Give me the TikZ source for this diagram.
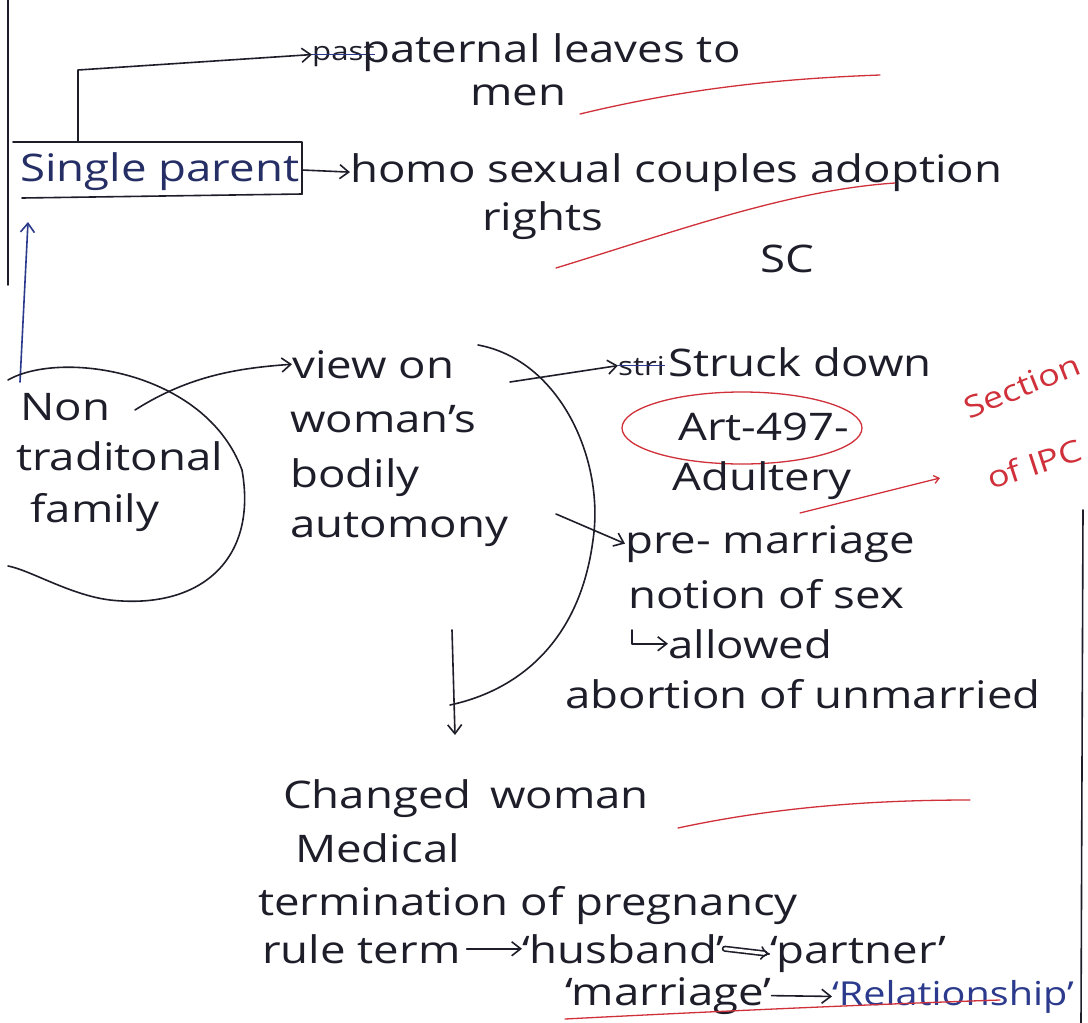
\documentclass[tikz,border=0pt]{standalone}
\usepackage{fontspec}
\setmainfont{Open Sans}[FakeStretch=1.2]
\usetikzlibrary{arrows.meta}
\definecolor{ink}{HTML}{1E1E2A}
\definecolor{blueink}{HTML}{2B3A8C}
\definecolor{redink}{HTML}{D0303A}
\tikzset{
  note/.style={anchor=base west, inner sep=0pt, font=\fontsize{38}{44}\selectfont, text=ink},
  small/.style={note, font=\fontsize{26}{30}\selectfont},
  rednote/.style={inner sep=0pt, font=\fontsize{30}{34}\selectfont, text=redink},
  stroke/.style={draw=ink, line width=1.6pt, line cap=round, line join=round},
  arr/.style={stroke, -{Straight Barb[length=9pt,width=14pt]}},
  bluearr/.style={arr, draw=blueink},
  redpen/.style={draw=redink, line width=1.3pt, line cap=round},
  strike/.style={draw=blueink, line width=1.6pt},
}
\begin{document}
\begin{tikzpicture}[x=1pt,y=-1pt]
\useasboundingbox[fill=white] (0,0) rectangle (1088,1023);

% page margins
\draw[stroke] (8,0) -- (8,285);
\draw[stroke] (1083,510) -- (1081,1023);

% top branch
\node[small] (past) at (312,60) {past};
\draw[strike] (past.west) -- (past.east);
\node[note] (paternal) at (362,62) {paternal leaves to};
\node[note] (men) at (470,105) {men};
\draw[redpen] (580,114) .. controls (700,85) and (800,78) .. (880,75);

% single parent box
\node[note, text=blueink!60!ink] (sp) at (20,181) {Single parent};
\coordinate (boxtop) at (78,142);
\coordinate (bend) at (78,70);
\coordinate (boxright) at (302,170);
\draw[stroke] (13,142) -- (302,142) -- (302,194);
\draw[stroke] (22,198) -- (302,194);
\draw[arr] (boxtop) -- (bend) -- (past.west);

\node[note] (homo) at (350,182) {homo sexual couples adoption};
\node[note] (rights) at (482,230) {rights};
\draw[arr] (boxright) -- (homo.west);
\draw[redpen] (556,268) .. controls (680,230) and (790,190) .. (895,183);
\node[note] (sc) at (760,272) {SC};

% non traditional family
\node[note] (non) at (20,420) {Non};
\node[note] (trad) at (16,470) {traditonal};
\node[note] (fam) at (30,522) {family};
\coordinate (famtop) at (20,382);
\coordinate (spbelow) at (28,222);
\draw[bluearr] (famtop) -- (spbelow);
\draw[stroke] (8,380) .. controls (60,350) and (205,370) .. (242,470)
  .. controls (258,560) and (200,610) .. (110,600) .. controls (70,595) and (30,570) .. (8,566);

% view on bodily autonomy
\node[note] (view) at (292,378) {view on};
\node[note] (womans) at (290,432) {woman's};
\node[note] (bodily) at (290,487) {bodily};
\node[note] (auto) at (290,537) {automony};
\draw[arr] (135,410) .. controls (190,375) and (240,368) .. (view.west);
\draw[stroke] (478,345) .. controls (560,360) and (605,460) .. (593,540)
  .. controls (580,640) and (520,690) .. (450,705);

% struck down
\node[small] (stri) at (618,375) {stri};
\draw[strike] (stri.west) -- (stri.east);
\node[note] (struck) at (668,376) {Struck down};
\coordinate (arcmid) at (510,382);
\draw[arr] (arcmid) -- (stri.west);
\node[note] (art) at (678,440) {Art-497-};
\draw[redpen] (742,428) ellipse [x radius=120, y radius=36];
\node[note] (adult) at (672,490) {Adultery};
\node[rednote, rotate=22] (section) at (1022,386) {Section};
\node[rednote, rotate=18] (ipc) at (1034,464) {of IPC};
\coordinate (ipcend) at (940,478);
\draw[redpen, -{Straight Barb[length=5pt,width=8pt]}] (800,513) -- (ipcend);

% pre-marriage
\node[note] (pre) at (625,553) {pre- marriage};
\node[note] (notion) at (628,608) {notion of sex};
\node[note] (allowed) at (668,658) {allowed};
\coordinate (hook) at (632,630);
\coordinate (arclow) at (556,514);
\draw[arr] (arclow) -- (pre.west);
\draw[arr] (hook) |- (allowed.west);
\node[note] (abort) at (565,708) {abortion of unmarried};

% medical termination of pregnancy
\coordinate (downtop) at (452,630);
\coordinate (downend) at (455,735);
\node[note] (changed) at (283,808) {Changed};
\node[note] (woman) at (490,808) {woman};
\draw[arr] (downtop) -- (downend);
\draw[redpen] (678,828) .. controls (780,806) and (880,800) .. (970,800);
\node[note] (medical) at (295,862) {Medical};
\node[note] (term) at (258,915) {termination of pregnancy};
\node[note] (rule) at (262,963) {rule term};
\node[note] (husband) at (522,963) {‘husband’};
\node[note] (partner) at (770,963) {‘partner’};
\draw[arr] (rule.east) ++(6,0) coordinate (r1) (r1) -- (husband.west);
\draw[stroke, double, double distance=3pt, -{Implies}] (husband.east) -- (partner.west);
\node[note] (marriage) at (565,1005) {‘marriage’};
\node[note, text=blueink, font=\fontsize{33}{40}\selectfont] (relation) at (832,1005) {‘Relationship’};
\draw[arr] (marriage.east) -- (relation.west);
\draw[redpen] (565,1019) .. controls (700,1012) and (880,1004) .. (1000,1000);
\end{tikzpicture}
\end{document}
